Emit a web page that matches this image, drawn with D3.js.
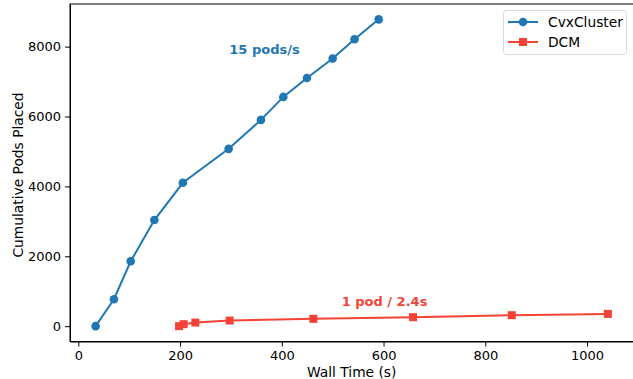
<!DOCTYPE html>
<html lang="en">
<head>
    <meta charset="UTF-8">
    <title>Cumulative Pods Placed</title>
    <script src="https://d3js.org/d3.v7.min.js"></script>
    <style type="text/css">
        body { margin: 0; background: #fff; }
        svg { display: block; font-family: "DejaVu Sans", sans-serif; }
        .axis path, .axis line { stroke: #000; stroke-width: 1px; }
        .axis text { font-size: 13px; fill: #000; font-family: "DejaVu Sans", sans-serif; }
        .label { font-size: 13.8px; fill: #000; text-anchor: middle; }
        .note { font-size: 13px; font-weight: bold; text-anchor: middle; }
    </style>
</head>
<body>
<script type="text/javascript">
    //DATA
    const cvxTime = [34, 70, 103, 149.5, 205.5, 295.5, 359, 403, 449.5, 500, 543, 590.5];
    const cvxPods = [0, 770, 1857, 3037, 4103, 5074, 5903, 6560, 7103, 7657, 8209, 8780];
    const dcmTime = [198, 207, 230, 297.5, 462, 658, 852, 1041];
    const dcmPods = [0, 57, 103, 160, 209, 257, 314, 351];
    const xTicks = [0, 200, 400, 600, 800, 1000];
    const yTicks = [0, 2000, 4000, 6000, 8000];
    const seriesNames = ["CvxCluster", "DCM"];

    //CONSTANTS
    const width = 633, height = 379;
    const plotLeft = 70, plotRight = 633.5, plotTop = 4, plotBottom = 341.5;
    const blue = "#1f77b4", red = "#f44336";

    const cvx = cvxTime.map((t, i) => ({t: t, v: cvxPods[i]}));
    const dcm = dcmTime.map((t, i) => ({t: t, v: dcmPods[i]}));

    //SCALES (matplotlib style 5% margins)
    const xMin = d3.min(cvxTime.concat(dcmTime)), xMax = d3.max(cvxTime.concat(dcmTime));
    const yMin = 0, yMax = d3.max(cvxPods.concat(dcmPods));
    const xPad = (xMax - xMin) * 0.05, yPad = (yMax - yMin) * 0.05;

    const xScale = d3.scaleLinear()
        .domain([xMin - xPad, xMax + xPad])
        .range([plotLeft, plotRight]);
    const yScale = d3.scaleLinear()
        .domain([yMin - yPad, yMax + yPad])
        .range([plotBottom, plotTop]);

    const svg = d3.select("body").append("svg")
        .attr("width", width)
        .attr("height", height);

    //AXES
    svg.append("g")
        .attr("class", "axis")
        .attr("transform", "translate(0," + plotBottom + ")")
        .call(d3.axisBottom(xScale).tickValues(xTicks).tickFormat(d3.format("d"))
            .tickSize(5).tickPadding(4).tickSizeOuter(0));
    svg.append("g")
        .attr("class", "axis")
        .attr("transform", "translate(" + plotLeft + ",0)")
        .call(d3.axisLeft(yScale).tickValues(yTicks).tickFormat(d3.format("d"))
            .tickSize(5).tickPadding(4).tickSizeOuter(0));

    //FRAME
    svg.append("rect")
        .attr("x", plotLeft).attr("y", plotTop)
        .attr("width", plotRight - plotLeft).attr("height", plotBottom - plotTop)
        .attr("fill", "none").attr("stroke", "#000").attr("stroke-width", 1);

    //LINES
    const line = d3.line().x(d => xScale(d.t)).y(d => yScale(d.v));

    svg.append("path").attr("d", line(cvx))
        .attr("fill", "none").attr("stroke", blue).attr("stroke-width", 2);
    svg.selectAll(".cvx").data(cvx).enter().append("circle")
        .attr("class", "cvx")
        .attr("cx", d => xScale(d.t)).attr("cy", d => yScale(d.v))
        .attr("r", 4.3).attr("fill", blue);

    svg.append("path").attr("d", line(dcm))
        .attr("fill", "none").attr("stroke", red).attr("stroke-width", 2);
    svg.selectAll(".dcm").data(dcm).enter().append("rect")
        .attr("class", "dcm")
        .attr("x", d => xScale(d.t) - 4).attr("y", d => yScale(d.v) - 4)
        .attr("width", 8).attr("height", 8).attr("fill", red);

    //ANNOTATIONS
    svg.append("text").attr("class", "note")
        .attr("x", xScale(366)).attr("y", yScale(7923) + 4.5)
        .attr("fill", blue).text("15 pods/s");
    svg.append("text").attr("class", "note")
        .attr("x", xScale(602)).attr("y", yScale(700) + 4.5)
        .attr("fill", red).text("1 pod / 2.4s");

    //AXIS LABELS
    svg.append("text").attr("class", "label")
        .attr("x", (plotLeft + plotRight) / 2).attr("y", 377)
        .text("Wall Time (s)");
    svg.append("text").attr("class", "label")
        .attr("transform", "rotate(-90)")
        .attr("x", -175).attr("y", 22.5)
        .text("Cumulative Pods Placed");

    //LEGEND
    const legend = svg.append("g");
    legend.append("rect")
        .attr("x", 503.5).attr("y", 10.5).attr("width", 123).attr("height", 44)
        .attr("rx", 3).attr("fill", "#fff").attr("fill-opacity", 0.8)
        .attr("stroke", "#d9d9d9");
    seriesNames.forEach((name, i) => {
        const y = 22 + i * 20;
        const c = i === 0 ? blue : red;
        legend.append("line").attr("x1", 508).attr("x2", 538).attr("y1", y).attr("y2", y)
            .attr("stroke", c).attr("stroke-width", 2);
        if (i === 0) {
            legend.append("circle").attr("cx", 523).attr("cy", y).attr("r", 4.3).attr("fill", c);
        } else {
            legend.append("rect").attr("x", 519).attr("y", y - 4).attr("width", 8).attr("height", 8).attr("fill", c);
        }
        legend.append("text").attr("x", 548).attr("y", y + 4.5)
            .attr("font-size", "13.8px").attr("fill", "#000").text(name);
    });
</script>
</body>
</html>
